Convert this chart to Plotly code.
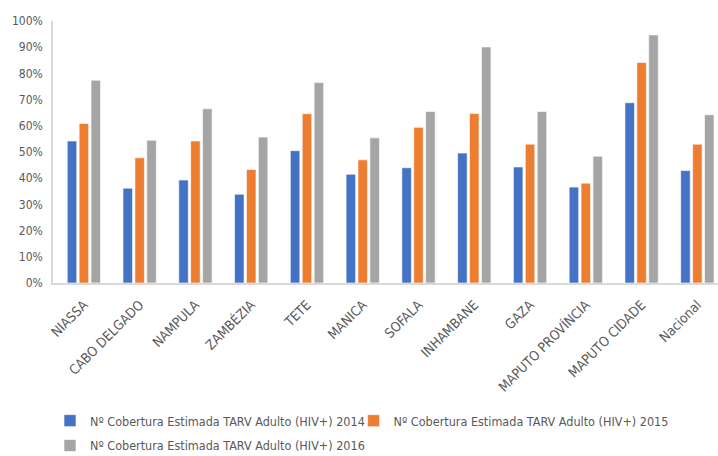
import plotly.graph_objects as go

categories = ["NIASSA", "CABO DELGADO", "NAMPULA", "ZAMBÉZIA", "TETE", "MANICA",
              "SOFALA", "INHAMBANE", "GAZA", "MAPUTO PROVÍNCIA", "MAPUTO CIDADE", "Nacional"]
v2014 = [0.542, 0.362, 0.393, 0.339, 0.505, 0.415, 0.440, 0.496, 0.443, 0.366, 0.688, 0.429]
v2015 = [0.609, 0.478, 0.542, 0.433, 0.646, 0.470, 0.594, 0.647, 0.530, 0.381, 0.842, 0.530]
v2016 = [0.774, 0.545, 0.665, 0.557, 0.765, 0.554, 0.655, 0.901, 0.655, 0.484, 0.947, 0.642]
series_names = ["Nº Cobertura Estimada TARV Adulto (HIV+) 2014",
                "Nº Cobertura Estimada TARV Adulto (HIV+) 2015",
                "Nº Cobertura Estimada TARV Adulto (HIV+) 2016"]
colors = ["#4472C4", "#ED7D31", "#A5A5A5"]
y_ticks = [i / 10 for i in range(11)]

FONT = "DejaVu Sans Condensed, Liberation Sans, sans-serif"
legend_refs = ["legend", "legend2", "legend3"]

fig = go.Figure()
for name, vals, c, lg in zip(series_names, [v2014, v2015, v2016], colors, legend_refs):
    fig.add_trace(go.Bar(x=categories, y=vals, name=name, legend=lg,
                         marker=dict(color=c, line=dict(color="rgba(255,255,255,0.6)", width=1))))

leg_common = dict(orientation="h", xanchor="left", yanchor="top", yref="container",
                  font=dict(size=12.5, color="#595959"), itemwidth=30,
                  bgcolor="rgba(0,0,0,0)")

fig.update_layout(
    width=718, height=456,
    margin=dict(l=53, r=0, t=21, b=173, autoexpand=False),
    paper_bgcolor="white", plot_bgcolor="white",
    barmode="group", bargap=0.36, bargroupgap=0.2,
    font=dict(family=FONT, color="#595959", size=12),
    showlegend=True,
    legend=dict(x=-0.0045, y=0.1096, **leg_common),
    legend2=dict(x=0.452, y=0.1096, **leg_common),
    legend3=dict(x=-0.0045, y=0.055, **leg_common),
)
fig.update_xaxes(range=[-0.554, 11.37], tickangle=-45, showline=True, linecolor="#D9D9D9",
                 linewidth=1.5, ticks="", tickfont=dict(size=13.5, color="#595959"),
                 showgrid=False, ticklabelstandoff=7)
fig.update_yaxes(range=[0, 1], tickvals=y_ticks, tickformat=".0%", showgrid=False,
                 showline=True, linecolor="#D9D9D9", linewidth=1.5, ticks="",
                 tickfont=dict(size=12, color="#595959"), zeroline=False,
                 ticklabelstandoff=6)

fig.write_html("out.html")
